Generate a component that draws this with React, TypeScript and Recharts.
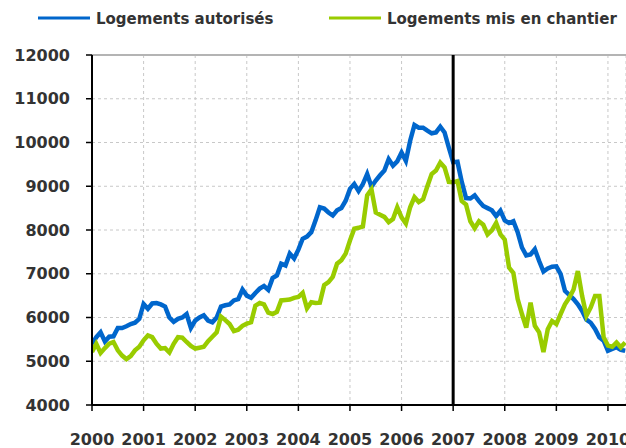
import React from "react";
import { LineChart, Line, XAxis, YAxis, CartesianGrid, ReferenceLine, Legend } from "recharts";

const BLUE = "#0066cc";
const GREEN = "#99cc00";
const TEXT = "#333333";
const FONT = "'DejaVu Sans', Verdana, sans-serif";

// monthly series, Jan 2000 .. May 2010
const autorises = [
  5400, 5550, 5660, 5450, 5560, 5570, 5760, 5760, 5800, 5850, 5880, 5970,
  6310, 6200, 6320, 6330, 6300, 6250, 6000, 5900, 5970, 6000, 6080, 5760,
  5930, 6000, 6050, 5930, 5890, 6000, 6250, 6280, 6300, 6390, 6420, 6640,
  6500, 6450, 6560, 6660, 6720, 6630, 6900, 6960, 7230, 7190, 7460, 7350,
  7550, 7800, 7850, 7950, 8220, 8520, 8490, 8400, 8330, 8450, 8500, 8670,
  8940, 9050, 8890, 9050, 9280, 8990, 9130, 9250, 9360, 9620, 9470, 9570,
  9770, 9580, 10040, 10400, 10340, 10340, 10270, 10210, 10230, 10360, 10230, 9880,
  9550, 9560, 9100, 8730, 8720, 8790, 8660, 8550, 8500, 8450, 8320, 8440,
  8220, 8160, 8200, 7950, 7600, 7420, 7440, 7560, 7290, 7050, 7120, 7160,
  7170, 6990, 6610, 6520, 6420, 6300, 6150, 5950, 5880, 5740, 5550, 5470,
  5240, 5280, 5320, 5260, 5240,
];

const chantier = [
  5210, 5400, 5190, 5300, 5400, 5440, 5250, 5130, 5050, 5120, 5250, 5330,
  5480, 5590, 5550, 5400, 5290, 5300, 5200, 5400, 5550, 5540, 5440, 5350,
  5290, 5310, 5330, 5460, 5560, 5660, 6020, 5940, 5850, 5690, 5720, 5810,
  5860, 5890, 6270, 6330, 6300, 6110, 6080, 6130, 6390, 6400, 6410, 6450,
  6470, 6560, 6210, 6350, 6330, 6340, 6740, 6810, 6930, 7230, 7310, 7460,
  7760, 8030, 8050, 8080, 8790, 8930, 8400, 8350, 8300, 8180, 8250, 8520,
  8290, 8150, 8520, 8750, 8640, 8700, 9000, 9280, 9360, 9540, 9430, 9100,
  9090, 9120, 8660, 8580, 8200, 8040, 8200, 8120, 7900, 7990, 8160, 7900,
  7780, 7140, 7020, 6420, 6080, 5770, 6340, 5810, 5660, 5210, 5730, 5920,
  5850, 6080, 6300, 6450, 6640, 7060, 6490, 6040, 6230, 6490, 6490, 5550,
  5360, 5330, 5430, 5320, 5430,
];

const yearTicks = [2000, 2001, 2002, 2003, 2004, 2005, 2006, 2007, 2008, 2009, 2010];
const valueTicks = [4000, 5000, 6000, 7000, 8000, 9000, 10000, 11000, 12000];

const data = autorises.map((v, i) => ({ t: 2000 + i / 12, autorises: v, chantier: chantier[i] }));

const legendItems = [
  { label: "Logements autorisés", color: BLUE, x: 38 },
  { label: "Logements mis en chantier", color: GREEN, x: 329 },
];

function TopLegend() {
  return (
    <svg width={626} height={36} style={{ display: "block" }}>
      {legendItems.map(it => (
        <g key={it.label}>
          <line x1={it.x} x2={it.x + 52} y1={18} y2={18} stroke={it.color} strokeWidth={3} />
          <text x={it.x + 58} y={23.5} fill={TEXT} fontFamily={FONT} fontWeight="bold" fontSize={15}>
            {it.label}
          </text>
        </g>
      ))}
    </svg>
  );
}

export default function App() {
  const tick = { fill: TEXT, fontFamily: FONT, fontWeight: "bold", fontSize: 16 } as any;
  return (
    <div style={{ position: "absolute", left: 0, top: 0, width: 626, height: 448, background: "#fff" }}>
      <LineChart width={626} height={448} data={data} margin={{ top: 19, right: 0, left: 0, bottom: 0 }}>
        <CartesianGrid stroke="#c8c8c8" strokeDasharray="3 3" />
        <XAxis
          type="number"
          dataKey="t"
          domain={[2000, 2010.35]}
          ticks={yearTicks}
          allowDataOverflow
          height={43}
          tick={tick}
          tickSize={6}
          tickMargin={23}
          axisLine={{ stroke: "#000", strokeWidth: 2 }}
          tickLine={{ stroke: "#000", strokeWidth: 1.5 }}
        />
        <YAxis
          domain={[4000, 12000]}
          ticks={valueTicks}
          width={92}
          tick={tick}
          tickSize={6}
          tickMargin={16}
          axisLine={{ stroke: "#000", strokeWidth: 2 }}
          tickLine={{ stroke: "#000", strokeWidth: 1.5 }}
        />
        <ReferenceLine y={12000} stroke="#b4b4b4" strokeWidth={2} />
        <Legend verticalAlign="top" wrapperStyle={{ top: 0, left: 0, width: 626 }} content={() => <TopLegend />} />
        <Line dataKey="autorises" name="Logements autorisés" stroke={BLUE} strokeWidth={4.5} dot={false} isAnimationActive={false} />
        <Line dataKey="chantier" name="Logements mis en chantier" stroke={GREEN} strokeWidth={4.5} dot={false} isAnimationActive={false} />
        <ReferenceLine x={2007} stroke="#000" strokeWidth={3} />
      </LineChart>
    </div>
  );
}
